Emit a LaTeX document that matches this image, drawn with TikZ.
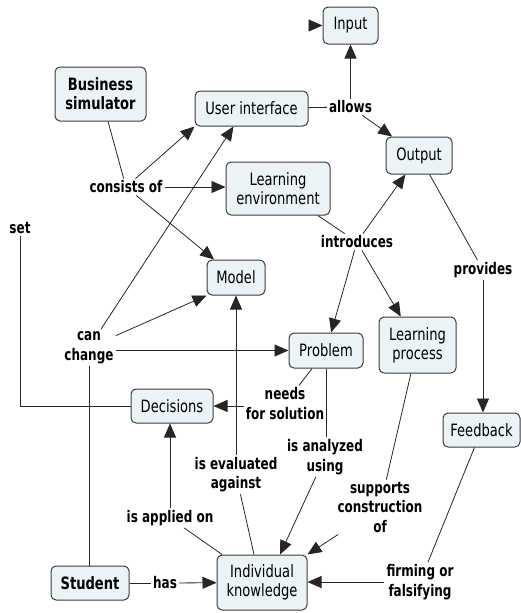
\documentclass[tikz,border=0pt]{standalone}
\usepackage{fontspec}
\setmainfont{DejaVu Sans}
\newfontfamily\nodefont{DejaVu Sans}[FakeStretch=0.77]
\newfontfamily\lblfont{DejaVu Sans}[FakeStretch=0.75]
\usetikzlibrary{arrows.meta}
\definecolor{cfill}{RGB}{236,243,246}
\definecolor{cline}{RGB}{60,60,60}
\begin{document}
\begin{tikzpicture}[x=1pt,y=-1pt,
  concept/.style={draw=cline, line width=1pt, fill=cfill, rounded corners=5pt, align=center, inner sep=0pt, font=\nodefont\fontsize{17}{19}\selectfont},
  bconcept/.style={concept, font=\nodefont\bfseries\fontsize{17}{19}\selectfont},
  lbl/.style={align=center, inner sep=2pt, font=\lblfont\bfseries\fontsize{16}{19.5}\selectfont},
  conn/.style={draw=black!85, line width=0.8pt},
  arr/.style={conn, -{Triangle[length=14pt,width=12pt]}}]
\useasboundingbox (0,0) rectangle (521,613);
% concepts
\node[concept, minimum width=55pt, minimum height=37pt] (input) at (350.5,25.5) {Input};
\node[concept, minimum width=113pt, minimum height=35pt] (ui) at (251.5,108.5) {User interface};
\node[concept, minimum width=66pt, minimum height=37pt] (output) at (419,155.5) {Output};
\node[bconcept, minimum width=91pt, minimum height=54pt] (bs) at (100.5,94) {Business\\simulator};
\node[concept, minimum width=104pt, minimum height=53pt] (le) at (278,188.5) {Learning\\environment};
\node[concept, minimum width=58pt, minimum height=35pt] (model) at (236,277.5) {Model};
\node[concept, minimum width=77pt, minimum height=56pt] (lp) at (417.5,345) {Learning\\process};
\node[concept, minimum width=74pt, minimum height=35pt] (problem) at (326,350.5) {Problem};
\node[concept, minimum width=77pt, minimum height=34pt] (feedback) at (481.5,430) {Feedback};
\node[concept, minimum width=82pt, minimum height=34pt] (decisions) at (172,406) {Decisions};
\node[concept, minimum width=90pt, minimum height=55pt] (ik) at (262,582.5) {Individual\\knowledge};
\node[bconcept, minimum width=78pt, minimum height=34pt] (student) at (90,583) {Student};
% labels
\node[lbl] (allows) at (350.5,107) {allows};
\node[lbl] (consists) at (126,187) {consists of};
\node[lbl] (introduces) at (357,242) {introduces};
\node[lbl] (provides) at (483,270) {provides};
\node[lbl] (set) at (20,228) {set};
\node[lbl] (canchange) at (89,347.5) {can\\change};
\node[lbl] (needs) at (285,403.5) {needs\\for solution};
\node[lbl] (analyzed) at (325,457) {is analyzed\\using};
\node[lbl] (evaluated) at (236,474.5) {is evaluated\\against};
\node[lbl] (applied) at (170,518) {is applied on};
\node[lbl] (has) at (165,583) {has};
\node[lbl] (supports) at (380,507) {supports\\construction\\of};
\node[lbl] (firming) at (420,582) {firming or\\falsifying};
\coordinate (instub) at (309,25.5);
% connectors
\draw[arr] (instub) -- (input.west);
\draw[conn] (bs) -- (consists);
\draw[arr] (consists) -- (ui.south west);
\draw[arr] (consists.east) -- (consists.east -| le.west);
\draw[arr] (consists) -- (model);
\draw[conn] (ui) -- (allows);
\draw[arr] (allows.north) -- (allows.north |- input.south);
\draw[arr] (allows) -- (output);
\draw[conn] (le) -- (introduces);
\draw[arr] (introduces) -- (output);
\draw[arr] (introduces) -- (problem);
\draw[arr] (introduces) -- (lp);
\draw[conn] (output) -- (provides);
\draw[arr] (provides.south) -- (provides.south |- feedback.north);
\draw[arr] (canchange) -- ([xshift=-18pt]ui.south);
\draw[arr] (canchange) -- (model.south west);
\draw[arr] (canchange.east |- problem.west) -- (problem.west);
\draw[conn] (canchange.south) -- (canchange.south |- student.north);
\draw[conn] (set.south) |- (decisions.west);
\draw[conn] (problem) -- (needs);
\draw[arr] (needs.west |- decisions.east) -- (decisions.east);
\draw[conn] (problem.south) -- (problem.south |- analyzed.north);
\draw[arr] (analyzed) -- ([xshift=18pt]ik.north);
\draw[conn] ([xshift=-8pt]ik.north) -- (evaluated);
\draw[arr] (evaluated.north) -- (evaluated.north |- model.south);
\draw[conn] (ik) -- (applied);
\draw[arr] (applied.north) -- (applied.north |- decisions.south);
\draw[conn] (student) -- (has);
\draw[arr] (has) -- (ik);
\draw[conn] (lp) -- (supports);
\draw[arr] (supports) -- (ik.north east);
\draw[conn] (feedback) -- (firming);
\draw[arr] (firming.west) -- (firming.west -| ik.east);
\end{tikzpicture}
\end{document}
